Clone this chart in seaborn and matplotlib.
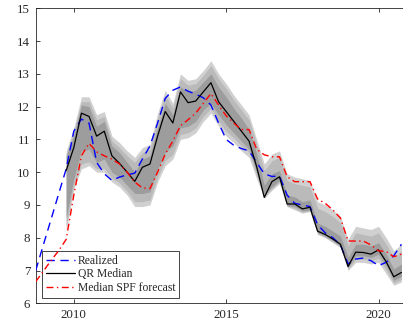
import numpy as np
import pandas as pd
import matplotlib
matplotlib.use("Agg")
import matplotlib.pyplot as plt
import seaborn as sns

# ---- data ----
years_full = [2008.75 + 0.25 * i for i in range(49)]
years_fc = [2009.75 + 0.25 * i for i in range(45)]

realized = [7.0, 7.78, 8.55, 9.33, 10.1,
            11.25, 11.62, 11.5, 10.3,
            9.95, 9.75, 9.85, 9.92,
            9.97, 10.4, 10.8, 11.5,
            12.25, 12.5, 12.6, 12.47,
            12.38, 12.27, 12.05, 11.5,
            11.0, 10.82, 10.72, 10.65,
            10.3, 9.95, 9.87, 9.88,
            9.3, 9.05, 9.0, 8.95,
            8.4, 8.15, 8.0, 7.78,
            7.2, 7.35, 7.38, 7.3,
            7.15, 7.25, 7.45, 7.8]

spf = [6.66, 6.98, 7.3, 7.6, 7.95,
       9.3, 10.5, 10.88, 10.62,
       10.5, 10.4, 10.25, 10.0,
       9.7, 9.52, 9.5, 10.0,
       10.55, 10.95, 11.42, 11.6,
       11.8, 12.1, 12.4, 12.05,
       11.72, 11.5, 11.3, 11.3,
       10.7, 10.53, 10.47, 10.47,
       9.86, 9.71, 9.71, 9.71,
       9.18, 9.05, 8.85, 8.6,
       7.9, 7.9, 7.9, 7.78,
       7.6, 7.58, 7.42, 7.5]

qr_median = [10.05,
             10.75, 11.8, 11.7, 11.1,
             11.25, 10.5, 10.27, 10.0,
             9.72, 10.15, 10.25, 11.1,
             11.85, 11.5, 12.45, 12.12,
             12.17, 12.45, 12.73, 12.15,
             11.85, 11.55, 11.25, 10.95,
             10.17, 9.23, 9.71, 9.86,
             9.03, 9.03, 8.88, 8.93,
             8.2, 8.1, 7.96, 7.8,
             7.12, 7.56, 7.55, 7.5,
             7.63, 7.27, 6.81, 6.94]

outer_hi = [10.65, 11.35, 12.3, 12.3, 11.75, 11.85, 11.1, 10.9, 10.65, 10.45,
            10.75, 10.85, 11.8, 12.5, 12.1, 13.0, 12.8, 12.85, 13.1, 13.4,
            13.0, 12.7, 12.35, 12.05, 11.75, 11.0, 10.25, 10.55, 10.65, 9.95,
            9.85, 9.8, 9.75, 9.1, 9.0, 8.85, 8.65, 7.95, 8.35, 8.3,
            8.25, 8.35, 8.0, 7.6, 7.8]
outer_lo = [8.2, 9.5, 10.1, 10.2, 10.0, 10.0, 9.7, 9.55, 9.3, 8.95,
            8.95, 9.0, 9.7, 10.2, 10.4, 11.0, 11.05, 11.2, 11.55, 11.8,
            11.4, 11.1, 10.9, 10.65, 10.45, 9.8, 9.2, 9.45, 9.65, 8.95,
            8.85, 8.75, 8.8, 8.1, 8.0, 7.85, 7.7, 7.0, 7.25, 7.25,
            7.2, 7.25, 6.9, 6.55, 6.65]
mid_hi = [10.55, 11.25, 12.15, 12.15, 11.6, 11.7, 10.95, 10.75, 10.5, 10.3,
          10.6, 10.7, 11.65, 12.35, 11.95, 12.85, 12.65, 12.7, 12.95, 13.25,
          12.85, 12.55, 12.2, 11.9, 11.6, 10.85, 10.05, 10.35, 10.45, 9.75,
          9.65, 9.6, 9.55, 8.9, 8.8, 8.65, 8.45, 7.75, 8.15, 8.1,
          8.05, 8.15, 7.8, 7.4, 7.6]
mid_lo = [8.35, 9.62, 10.25, 10.32, 10.1, 10.12, 9.82, 9.67, 9.42, 9.1,
          9.1, 9.15, 9.85, 10.35, 10.55, 11.15, 11.2, 11.35, 11.7, 11.95,
          11.55, 11.25, 11.05, 10.8, 10.6, 9.9, 9.25, 9.5, 9.7, 8.97,
          8.9, 8.78, 8.82, 8.12, 8.02, 7.88, 7.72, 7.05, 7.35, 7.35,
          7.3, 7.38, 7.02, 6.62, 6.73]
inner_hi = [10.5, 11.1, 12.05, 12.0, 11.4, 11.55, 10.8, 10.6, 10.3, 10.0,
            10.4, 10.5, 11.35, 12.1, 11.75, 12.6, 12.45, 12.5, 12.75, 13.0,
            12.6, 12.3, 11.95, 11.65, 11.3, 10.55, 9.6, 9.95, 10.05, 9.3,
            9.25, 9.1, 9.15, 8.45, 8.35, 8.2, 8.05, 7.4, 7.8, 7.8,
            7.75, 7.85, 7.5, 7.05, 7.2]
inner_lo = [8.6, 9.8, 10.65, 10.7, 10.3, 10.4, 10.0, 9.85, 9.6, 9.35,
            9.35, 9.4, 10.1, 10.6, 10.8, 11.35, 11.4, 11.55, 11.9, 12.1,
            11.75, 11.45, 11.2, 10.95, 10.7, 10.0, 9.3, 9.55, 9.75, 8.98,
            8.95, 8.82, 8.85, 8.15, 8.05, 7.92, 7.75, 7.1, 7.45, 7.45,
            7.4, 7.5, 7.15, 6.7, 6.82]

x_ticks = [2010, 2015, 2020]
y_ticks = list(range(6, 16))

# ---- style ----
sns.set_style("ticks")
plt.rcParams["font.family"] = ["Liberation Serif", "DejaVu Serif"]
plt.rcParams["font.size"] = 9.3

fig = plt.figure(figsize=(4.03, 3.26), dpi=100)
ax = fig.add_axes([0.0886, 0.0696, 0.915, 0.905])

df_full = pd.DataFrame({"t": years_full, "realized": realized, "spf": spf})
df_fc = pd.DataFrame({"t": years_fc, "median": qr_median})

ax.fill_between(years_fc, outer_lo, outer_hi, color="#d0d0d0", lw=0, zorder=1)
ax.fill_between(years_fc, mid_lo, mid_hi, color="#bababa", lw=0, zorder=2)
ax.fill_between(years_fc, inner_lo, inner_hi, color="#9d9d9d", lw=0, zorder=3)

sns.lineplot(data=df_full, x="t", y="realized", ax=ax, color="#0000ff",
             lw=1.0, dashes=False, label="Realized", zorder=5)
ax.lines[-1].set_linestyle((0, (6, 4)))
sns.lineplot(data=df_fc, x="t", y="median", ax=ax, color="black",
             lw=0.9, label="QR Median", zorder=6)
sns.lineplot(data=df_full, x="t", y="spf", ax=ax, color="#ff0000",
             lw=1.0, label="Median SPF forecast", zorder=7)
ax.lines[-1].set_linestyle((0, (5, 2.5, 1, 2.5)))

ax.set_xlim(2008.75, 2020.85)
ax.set_ylim(6, 15)
ax.set_xticks(x_ticks)
ax.set_yticks(y_ticks)
ax.set_xlabel("")
ax.set_ylabel("")
ax.tick_params(direction="in", top=True, right=False, length=3,
               width=0.6, colors="#262626", labelsize=9.3, pad=4)
for s in ["left", "bottom", "top"]:
    ax.spines[s].set_linewidth(0.6)
    ax.spines[s].set_color("#262626")
ax.spines["right"].set_visible(False)

leg = ax.legend(loc="lower left", bbox_to_anchor=(0.018, 0.019),
                borderaxespad=0, frameon=True, fancybox=False,
                edgecolor="#262626", framealpha=1, fontsize=8.4,
                handlelength=2.5, labelspacing=0.15, borderpad=0.3,
                handletextpad=0.25)
leg.get_frame().set_linewidth(0.6)

fig.savefig("out.png", dpi=100)
